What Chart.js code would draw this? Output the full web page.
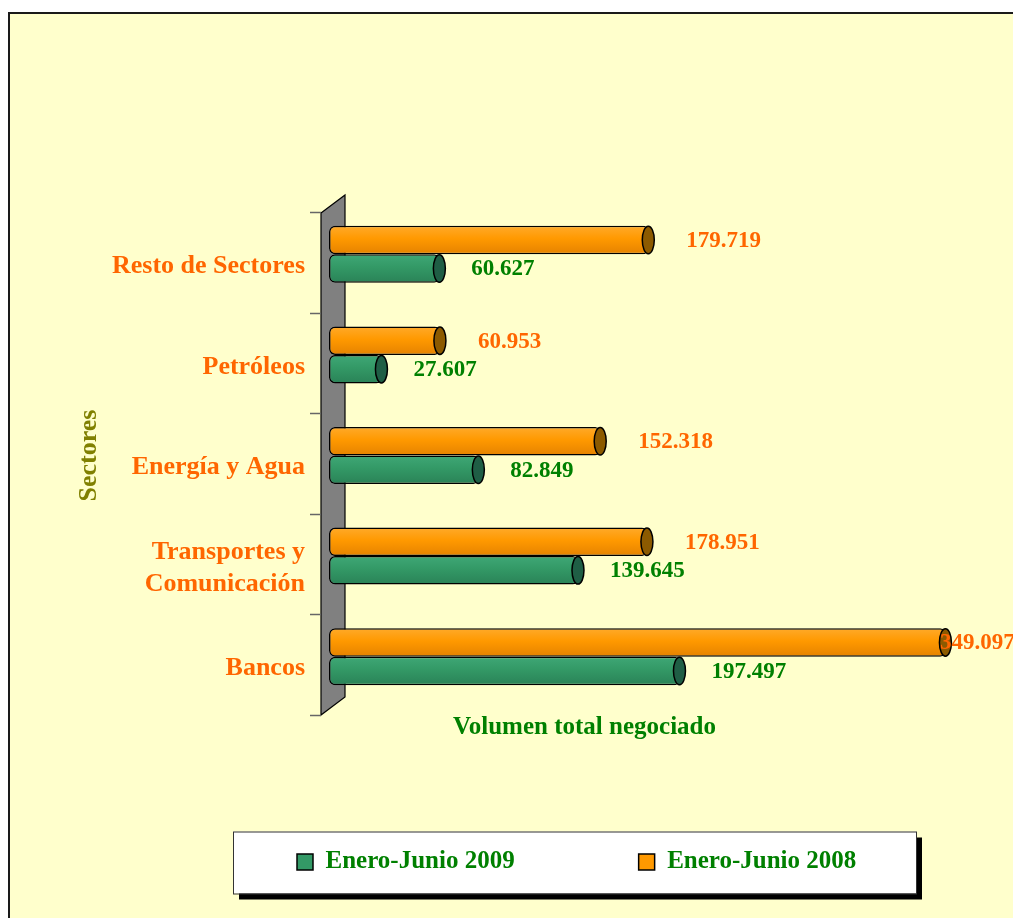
<!DOCTYPE html>
<html><head><meta charset="utf-8">
<script src="https://cdn.jsdelivr.net/npm/chart.js@4.4.1/dist/chart.umd.min.js"></script>
<style>html,body{margin:0;padding:0;background:#fff;overflow:hidden}#wrap{width:1013px;height:918px;position:relative}</style>
</head><body><div id="wrap"><canvas id="c"></canvas></div>
<script>
// ---- data ----
const categories = ['Resto de Sectores', 'Petróleos', 'Energía y Agua', ['Transportes y', 'Comunicación'], 'Bancos'];
const seriesNames = ['Enero-Junio 2008', 'Enero-Junio 2009'];
const values2008 = [179719, 60953, 152318, 178951, 349097];
const values2009 = [60627, 27607, 82849, 139645, 197497];
const axisTitleX = 'Volumen total negociado';
const axisTitleY = 'Sectores';
const xMin = -2850, xMax = 350000;

// ---- styles ----
const SERIF = "'Liberation Serif','Times New Roman',serif";
const CAT_PCT = 0.567;
const gradColors = [['#FFAA2A', '#FF9900', '#E58200'], ['#3FA776', '#339966', '#2A8257']];
const capColors = ['#8C5A00', '#1F5E45'];
const legendColors = ['#FF9900', '#339966'];
const labelColors = ['#FF6600', '#008000'];
const labelGaps = [37, 31];
const fmt = v => String(v).replace(/\B(?=(\d{3})+(?!\d))/g, '.');

function barGradient(colors) {
  return function (c) {
    if (c.type !== 'data') return colors[1];
    const ch = c.chart, ys = ch.scales && ch.scales.y;
    if (!ys || !isFinite(ys.top) || !isFinite(ys.bottom)) return colors[1];
    const center = ys.getPixelForValue(c.dataIndex);
    const catW = (ys.bottom - ys.top) / categories.length;
    const th = catW * CAT_PCT / 2;
    const top = c.datasetIndex === 0 ? center - th : center;
    const g = ch.ctx.createLinearGradient(0, top, 0, top + th);
    g.addColorStop(0, colors[0]);
    g.addColorStop(0.45, colors[1]);
    g.addColorStop(1, colors[2]);
    return g;
  };
}

const deco = {
  id: 'deco',
  afterLayout(chart) {
    const lg = chart.legend;
    const pad = lg.options.labels.padding;
    lg.left = 297 - pad; lg.right = 4000; lg.width = lg.right - lg.left;
    const h = lg.height;
    lg.top = 849.5 - pad; lg.bottom = lg.top + h;
    const t = chart.titleBlock;
    const th = t.height;
    t.left = 221; t.right = 948; t.width = t.right - t.left;
    t.top = 713; t.bottom = t.top + th;
  },
  beforeDraw(chart) {
    const ctx = chart.ctx;
    ctx.save();
    ctx.fillStyle = '#FFFFFF';
    ctx.fillRect(0, 0, chart.width, chart.height);
    ctx.fillStyle = '#FFFFCC';
    ctx.fillRect(8, 12, chart.width, chart.height);
    ctx.strokeStyle = '#1a1a1a';
    ctx.lineWidth = 2;
    ctx.strokeRect(9, 13, chart.width + 10, chart.height + 10);
    // legend frame with shadow
    const lg = chart.legend, pad = lg.options.labels.padding;
    const bx = lg.left + pad - 64, by = lg.top + pad - 18, bw = 683, bh = 62;
    ctx.fillStyle = '#000';
    ctx.fillRect(bx + 6, by + 6, bw, bh);
    ctx.fillStyle = '#FFFFFF';
    ctx.fillRect(bx, by, bw, bh);
    ctx.strokeStyle = '#333';
    ctx.lineWidth = 1;
    ctx.strokeRect(bx + 0.5, by + 0.5, bw, bh);
    ctx.restore();
  },
  beforeDatasetsDraw(chart) {
    const ctx = chart.ctx, ca = chart.chartArea;
    const L = ca.left, T = ca.top, B = ca.bottom;
    ctx.save();
    // wall
    ctx.beginPath();
    ctx.moveTo(L - 8, T + 9);
    ctx.lineTo(L + 16, T - 9);
    ctx.lineTo(L + 16, B - 10);
    ctx.lineTo(L - 8, B + 8);
    ctx.closePath();
    ctx.fillStyle = '#808080';
    ctx.fill();
    ctx.strokeStyle = '#000';
    ctx.lineWidth = 1.2;
    ctx.stroke();
    // category tick marks
    const n = categories.length, cw = (B - T) / n;
    ctx.strokeStyle = '#666';
    ctx.lineWidth = 1.5;
    for (let i = 0; i <= n; i++) {
      const y = Math.round(T + 8 + i * cw) + 0.5;
      ctx.beginPath();
      ctx.moveTo(L - 19, y);
      ctx.lineTo(L - 8, y);
      ctx.stroke();
    }
    ctx.restore();
  },
  afterDatasetsDraw(chart) {
    const ctx = chart.ctx, ca = chart.chartArea;
    ctx.save();
    chart.data.datasets.forEach((ds, di) => {
      const meta = chart.getDatasetMeta(di);
      meta.data.forEach((bar) => {
        ctx.beginPath();
        ctx.ellipse(bar.x - 1, bar.y, 6, bar.height / 2 - 0.5, 0, 0, Math.PI * 2);
        ctx.fillStyle = capColors[di];
        ctx.fill();
        ctx.strokeStyle = '#000';
        ctx.lineWidth = 1.5;
        ctx.stroke();
      });
    });
    ctx.font = 'bold 23px ' + SERIF;
    ctx.textBaseline = 'middle';
    ctx.textAlign = 'left';
    chart.data.datasets.forEach((ds, di) => {
      const meta = chart.getDatasetMeta(di);
      meta.data.forEach((bar, i) => {
        const x = Math.min(bar.x + labelGaps[di], ca.right - 8);
        ctx.fillStyle = labelColors[di];
        ctx.fillText(fmt(ds.data[i]), x, bar.y + 1);
      });
    });
    ctx.restore();
  }
};

new Chart(document.getElementById('c'), {
  type: 'bar',
  data: {
    labels: categories,
    datasets: [
      { label: seriesNames[0], data: values2008, backgroundColor: barGradient(gradColors[0]),
        borderColor: '#000', borderWidth: 1.5, borderRadius: 6, borderSkipped: false, base: xMin, clip: false },
      { label: seriesNames[1], data: values2009, backgroundColor: barGradient(gradColors[1]),
        borderColor: '#000', borderWidth: 1.5, borderRadius: 6, borderSkipped: false, base: xMin, clip: false }
    ]
  },
  options: {
    indexAxis: 'y',
    responsive: true,
    maintainAspectRatio: false,
    animation: false,
    events: [],
    layout: { padding: { left: 60, right: 65, top: 204, bottom: 22 } },
    datasets: { bar: { categoryPercentage: CAT_PCT, barPercentage: 1 } },
    scales: {
      x: { display: false, min: xMin, max: xMax },
      y: {
        grid: { display: false, drawTicks: false },
        border: { display: false },
        ticks: { autoSkip: false, padding: 24, labelOffset: 12, color: '#FF6600',
                 font: { family: SERIF, size: 26, weight: 'bold', lineHeight: 1.25 } },
        title: { display: true, text: axisTitleY, color: '#808000',
                 font: { family: SERIF, size: 26, weight: 'bold' }, padding: { top: 14, bottom: 0 } },
        afterFit(s) { s.width = 269; }
      }
    },
    plugins: {
      legend: {
        position: 'bottom',
        align: 'start',
        reverse: true,
        labels: {
          boxWidth: 16, boxHeight: 16, padding: 124, color: '#008000',
          font: { family: SERIF, size: 25, weight: 'bold' },
          generateLabels(ch) {
            const items = Chart.defaults.plugins.legend.labels.generateLabels(ch);
            items.forEach(it => { it.fillStyle = legendColors[it.datasetIndex]; it.strokeStyle = '#000'; it.lineWidth = 1.5; });
            return items;
          }
        }
      },
      title: { display: true, position: 'bottom', text: axisTitleX, color: '#008000',
               font: { family: SERIF, size: 25, weight: 'bold', lineHeight: 1.2 }, padding: { top: 0, bottom: 0 } },
      tooltip: { enabled: false }
    }
  },
  plugins: [deco]
});
</script>
</body></html>
